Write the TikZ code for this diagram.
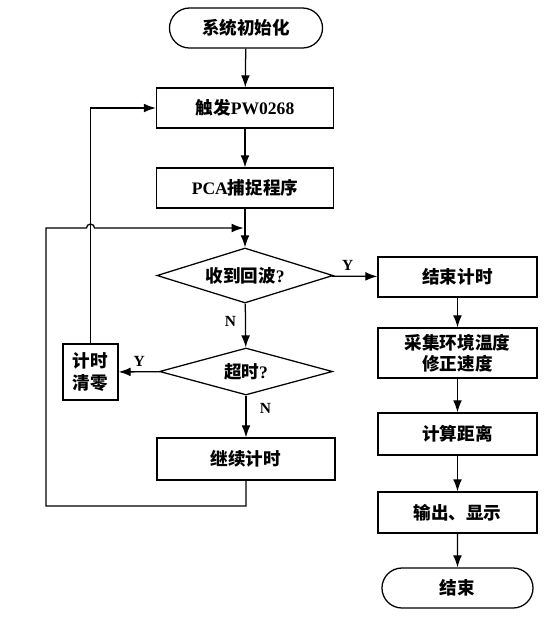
\documentclass[tikz,border=0pt]{standalone}
\usepackage{fontspec}
\setmainfont{Liberation Serif}
\newfontfamily\cjk{Noto Sans CJK SC}
\usetikzlibrary{shapes.geometric,shapes.misc,arrows.meta}

\begin{document}
\begin{tikzpicture}[x=0.025cm,y=-0.025cm,line width=0.9pt,
  every node/.style={font=\fontsize{12.5}{15}\selectfont\bfseries},
  box/.style={draw,rectangle,inner sep=0pt,align=center},
  term/.style={draw,rounded rectangle,inner sep=0pt},
  test/.style={draw,diamond,inner sep=0pt},
  yn/.style={font=\fontsize{11}{12}\selectfont\bfseries},
  >={Latex[length=3mm,width=2.2mm]}]
\useasboundingbox (0,0) rectangle (556,621);
% left column
\node[term,minimum width=3.825cm,minimum height=1cm] (init) at (246,28) {\cjk 系统初始化};
\node[box,minimum width=4.425cm,minimum height=1cm] (trig) at (245,108) {{\cjk 触发}PW0268};
\node[box,minimum width=4.425cm,minimum height=1cm] (pca) at (245,188) {PCA{\cjk 捕捉程序}};
\node[test,aspect=3.2,minimum width=4.4cm,minimum height=1.375cm] (echo) at (245,275.5) {{\cjk 收到回波}?};
\node[test,aspect=3.7,minimum width=4.325cm,minimum height=1.175cm] (tout) at (246,371.5) {{\cjk 超时}?};
\node[box,minimum width=1.375cm,minimum height=1.4cm] (clr) at (90.5,372) {{\cjk 计时}\\{\cjk 清零}};
\node[box,minimum width=4.45cm,minimum height=1.05cm] (cont) at (246,459) {\cjk 继续计时};
% right column
\node[box,minimum width=3.975cm,minimum height=1cm] (end1) at (457.5,277) {\cjk 结束计时};
\node[box,minimum width=3.975cm,minimum height=1.25cm] (meas) at (457.5,353) {{\cjk 采集环境温度}\\{\cjk 修正速度}};
\node[box,minimum width=3.975cm,minimum height=1.05cm] (calc) at (457.5,434) {\cjk 计算距离};
\node[box,minimum width=3.975cm,minimum height=1.025cm] (out) at (457.5,512.5) {\cjk 输出、显示};
\node[term,minimum width=3.775cm,minimum height=1cm] (stop) at (457.5,588) {\cjk 结束};
\coordinate (join) at (245,228);
\coordinate (loopbl) at (46,506);
\coordinate (hop) at (86.5,228);
% connectors
\draw[->] (init) -- (trig);
\draw[->] (trig) -- (pca);
\draw (pca) -- (join);
\draw[->] (join) -- (echo);
\draw[->] (echo) -- node[yn,above,pos=0.35] {Y} (end1);
\draw[->] (echo) -- node[yn,left=3pt,pos=0.4] {N} (tout);
\draw[->] (tout) -- node[yn,above] {Y} (clr);
\draw[->] (tout) -- node[yn,right=6pt,pos=0.3] {N} (cont);
\draw[->] (clr.north) |- (trig.west);
\draw[->,shorten >=1pt] (cont.south) |- (loopbl) |- (hop) arc[start angle=180,end angle=0,radius=0.1cm] -- (join);
\draw[->] (end1) -- (meas);
\draw[->] (meas) -- (calc);
\draw[->] (calc) -- (out);
\draw[->] (out) -- (stop);
\end{tikzpicture}
\end{document}
